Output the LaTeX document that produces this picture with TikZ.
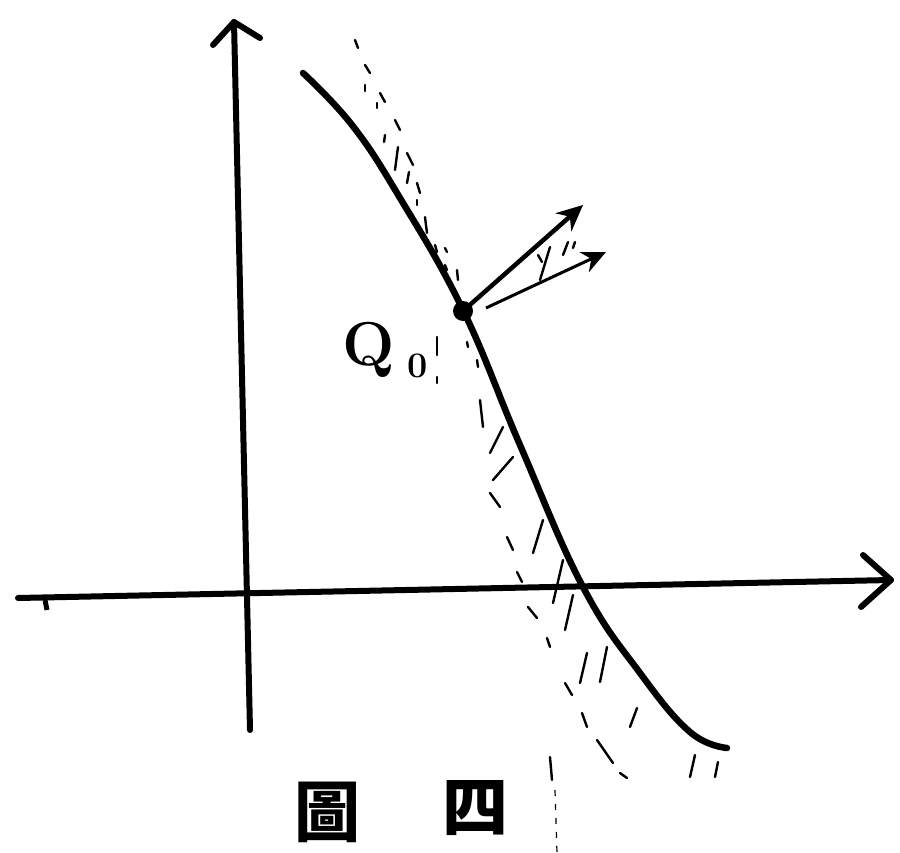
\documentclass[tikz,border=0pt]{standalone}
\usepackage{fontspec}
\newfontfamily\cjk{Noto Sans CJK TC}
\usetikzlibrary{arrows.meta}
\begin{document}
\begin{tikzpicture}[x=1pt,y=-1pt,
  axis/.style={line width=6pt,line cap=round},
  wing/.style={line width=6pt,line cap=round,line join=round},
  curveline/.style={line width=6.5pt,line cap=round},
  vec/.style={line width=4.5pt,-{Stealth[length=26pt,width=24pt]}},
  vecthin/.style={line width=3pt,-{Stealth[length=24pt,width=22pt]}},
  hatch/.style={line width=2.4pt,line cap=round},
  lbl/.style={inner sep=0pt,font=\bfseries}]
\useasboundingbox (0,0) rectangle (900,853);
% axes
\coordinate (yb) at (250,730);
\coordinate (yt) at (234,22);
\coordinate (xl) at (18,598);
\coordinate (xr) at (891,580);
\draw[axis] (yb) -- (yt);
\draw[wing] (213,45) -- (yt) -- (260,38);
\draw[axis] (xl) -- (xr);
\draw[wing] (863,555) -- (xr) -- (861,607);
\draw[line width=5pt] (45,600) -- (47,610);
% curve
\draw[curveline] plot[smooth,tension=0.7] coordinates {(303,73) (352,125) (400,198) (463,310) (520,445) (583,587) (640,673) (690,732) (727,748)};
% point Q0
\coordinate (q) at (463,311);
\fill (q) circle (10pt);
\coordinate (v1) at (583,205);
\coordinate (v2s) at (486,308);
\coordinate (v2) at (606,252);
\draw[vec] (q) -- (v1);
\draw[vecthin] (v2s) -- (v2);
% label
\node[lbl,font=\bfseries\fontsize{62}{62}\selectfont] (Q) at (369,350) {Q};
\node[lbl,font=\bfseries\fontsize{36}{36}\selectfont] (Qs) at (418,366) {0};
% hatching above Q0
\foreach \a/\b/\c/\d in {355/40/358/48, 365/65/370/73, 365/85/365/91, 380/93/385/102, 377/103/377/108,
  395/120/400/130, 385/135/384/142, 398/147/395/170, 407/153/413/165, 409/172/407/183, 417/183/420/193,
  417/200/417/205, 425/217/427/233, 435/245/437/252, 445/248/447/252, 445/265/447/270, 457/270/458/280,
  538/255/542/262, 550/247/540/280, 568/242/563/255, 575/242/573/248,
  467/342/468/347, 477/360/478/367, 437/337/437/355, 437/377/437/383}
  \draw[hatch] (\a,\b) -- (\c,\d);
% hatching below Q0
\foreach \a/\b/\c/\d in {480/400/483/427, 490/453/503/427, 493/480/513/457, 490/493/500/507,
  507/537/513/550, 533/553/543/520, 517/572/522/582, 553/603/563/560, 528/607/537/618,
  565/630/573/595, 547/638/550/647, 580/683/587/653, 600/682/607/647, 565/683/572/695,
  582/713/587/727, 630/727/637/708, 597/740/613/763, 690/777/695/755, 620/773/627/778,
  718/762/715/777, 550/757/552/780}
  \draw[hatch] (\a,\b) -- (\c,\d);
\draw[line width=1.2pt,dash pattern=on 6pt off 8pt] (555,790) -- (557,853);
% caption
\node[inner sep=0pt,font=\cjk\bfseries\fontsize{66}{66}\selectfont] (c1) at (327,812) {圖};
\node[inner sep=0pt,font=\cjk\bfseries\fontsize{66}{66}\selectfont] (c2) at (475,808) {四};
\end{tikzpicture}
\end{document}
